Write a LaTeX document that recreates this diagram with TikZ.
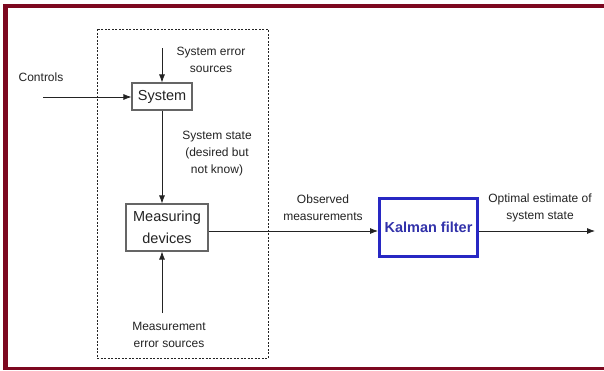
\documentclass[tikz,border=0pt]{standalone}
\usepackage{fontspec}
\setmainfont{Liberation Sans}
\usetikzlibrary{arrows.meta}
\definecolor{frame}{RGB}{125,8,32}
\definecolor{kblue}{RGB}{40,40,195}
\definecolor{ktext}{RGB}{50,50,170}
\definecolor{ink}{RGB}{35,35,35}
\begin{document}
\begin{tikzpicture}[x=1pt,y=-1pt,
  lbl/.style={font=\fontsize{12}{17}\selectfont, text=ink, align=center, inner sep=0},
  box/.style={draw=ink!70, line width=1.1pt, inner sep=0, font=\fontsize{14.5}{22}\selectfont, text=ink, align=center},
  conn/.style={draw=ink, line width=0.8pt},
  arr/.style={conn, -{Latex[length=8pt,width=6pt]}}]
\useasboundingbox (0,0) rectangle (604,370);
\fill[white] (0,0) rectangle (604,370);
% frame
\fill[frame] (3,4) rectangle (604,7.5);
\fill[frame] (3,4) rectangle (8,370);
\fill[frame] (3,366.5) rectangle (604,370);
% dashed system box
\draw[ink, line width=0.9pt, dash pattern=on 2pt off 1.5pt] (97,29) rectangle (268,358);
% nodes
\node[box, minimum width=60, minimum height=27] (sys) at (162,96.5) {System};
\node[box, minimum width=82, minimum height=47] (meas) at (167,227.5) {Measuring\\devices};
\node[draw=kblue, line width=3pt, minimum width=98, minimum height=58, inner sep=0,
      font=\fontsize{14.5}{18}\bfseries\selectfont, text=ktext] (kf) at (428.5,227.5) {Kalman filter};
% labels
\node[lbl] (ctrl) at (41,77) {Controls};
\node[lbl] (sesrc) at (211,60) {System error\\sources};
\node[lbl] (state) at (217,154) {System state\\(desired but\\not know)};
\node[lbl] (mesrc) at (169,334.5) {Measurement\\error sources};
\node[lbl] (obs) at (323,207.5) {Observed\\measurements};
\node[lbl] (opt) at (540,207.5) {Optimal estimate of\\system state};
% coordinates
\coordinate (cin) at (43,97);
\coordinate (setop) at (162,48);
\coordinate (mebot) at (162,313);
\coordinate (out) at (0,231);
\coordinate (fin) at (595,231);
% connectors
\draw[arr] (cin) -- (sys.west |- cin);
\draw[arr] (setop) -- (sys.north);
\draw[arr] (sys.south) -- (sys.south |- meas.north);
\draw[arr] (mebot) -- (mebot |- meas.south);
\draw[arr] (meas.east |- out) -- (kf.west |- out);
\draw[arr] (kf.east |- out) -- (fin);
\end{tikzpicture}
\end{document}
